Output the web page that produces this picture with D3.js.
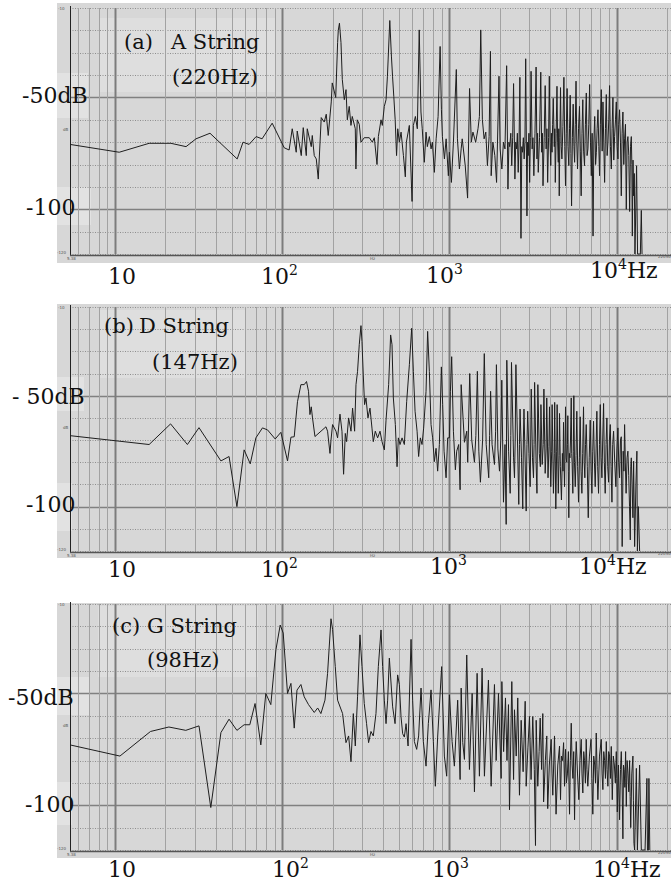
<!DOCTYPE html>
<html>
<head>
<meta charset="utf-8">
<script src="https://cdn.jsdelivr.net/npm/d3@7"></script>
<style>
  body { margin: 0; background: #fff; }
  svg { display: block; }
</style>
</head>
<body>
<div id="chart"></div>
<script>
// spectra: [frequency Hz, level dB]
const specA = [
  [5.38,-71],[10.6,-74.5],[16,-70.5],[21.6,-70.5],[26.6,-72],[30.5,-68.5],[37,-66],[53.8,-77.5],[58.3,-70],[63.4,-71],
  [69.8,-67.5],[75.8,-68.5],[87.1,-61.5],[102.8,-72.5],[110,-73.5],[114.8,-64],[121.3,-74.5],[123,-65],[130,-76],[133.6,-63.5],
  [139.3,-76],[141.2,-64],[149.2,-72],[151.3,-67],[155.5,-76],[159.9,-77.5],[164.3,-86.5],[171.2,-59],[178.4,-61],[183.4,-57.5],
  [188.5,-67],[196.5,-52],[199.2,-43.5],[209,-50],[214.5,-25.5],[216.5,-20],[220,-16.8],[224.7,-25.5],[228.8,-42],[235.2,-51],
  [240.8,-46.5],[245.2,-60],[251.7,-54],[257.8,-62.5],[262.5,-58.5],[273.6,-64],[276,-82],[281,-60],[289,-62],[296,-70],
  [309.5,-68],[331.8,-68],[345.9,-70],[355.6,-68],[369,-80],[376,-67.5],[390,-60],[397,-62.5],[408,-54],[418,-51],
  [426,-40.5],[440,-15.6],[450,-31.5],[457,-40.5],[465,-49.5],[474,-60],[483,-76],[491,-64],[502,-70],[514,-65.5],
  [531,-76],[545,-85.5],[553,-70],[576,-62.5],[598,-96.5],[609,-62.5],[626,-58.5],[643,-64],[660,-19.8],[676,-56.5],
  [688,-64],[708,-79],[725,-65.5],[738,-72],[759,-67.5],[777,-73],[791,-70],[813,-83.5],[833,-68.5],[856,-58.5],
  [880,-27.2],[896,-55.5],[908,-67.5],[934,-77.5],[956,-68.5],[986,-85],[1000,-74.5],[1028,-88],[1057,-70],[1100,-37.5],
  [1117,-68.5],[1148,-82],[1176,-73],[1193,-68.5],[1244,-80.5],[1285,-95],[1320,-46],[1352,-70],[1383,-65.5],[1436,-70],
  [1483,-64],[1512,-58.5],[1540,-19.8],[1575,-60],[1613,-68.5],[1651,-65.5],[1688,-80.5],[1728,-67.5],[1760,-29.4],[1778,-85],
  [1820,-70],[1870,-76],[1915,-88],[1980,-40.5],[2011,-73],[2060,-82],[2105,-70],[2150,-73],[2200,-35.8],[2240,-91],
  [2270,-70],[2295,-72],[2330,-66],[2360,-80.5],[2390,-68],[2420,-43.8],[2465,-86.5],[2495,-70],[2525,-73],[2550,-66],
  [2580,-83.5],[2610,-70],[2640,-41],[2680,-113],[2710,-72],[2735,-74.5],[2770,-68],[2800,-77.5],[2830,-70],[2860,-32.7],
  [2910,-103],[2935,-70],[2960,-76],[2990,-66],[3020,-88],[3050,-68],[3080,-38.3],[3125,-73],[3160,-68],[3200,-85],
  [3250,-66],[3300,-36.4],[3340,-77.5],[3370,-66],[3400,-83.5],[3460,-68],[3520,-38.7],[3565,-74.5],[3600,-66],[3630,-89.5],
  [3690,-68],[3740,-44.7],[3790,-73],[3830,-64],[3870,-88],[3920,-68],[3960,-40.5],[4000,-70],[4040,-80.5],[4075,-66],
  [4110,-74.5],[4145,-62],[4180,-50.4],[4240,-72],[4270,-64],[4300,-88],[4350,-66],[4400,-45],[4440,-70],[4480,-79],
  [4510,-64],[4540,-94],[4580,-68],[4620,-45.6],[4665,-72],[4710,-77.5],[4775,-63],[4840,-41],[4900,-72],[4950,-89.5],
  [5000,-66],[5060,-46],[5120,-72],[5180,-80.5],[5230,-64],[5280,-49],[5330,-75],[5380,-98.5],[5440,-68],[5500,-53],
  [5560,-72],[5610,-79],[5665,-62],[5720,-42.7],[5780,-70],[5840,-82],[5920,-64],[6000,-54],[6070,-74],[6140,-94],
  [6210,-66],[6280,-51],[6350,-74],[6430,-80.5],[6510,-62],[6590,-48],[6660,-76],[6740,-73],[6820,-62],[6900,-44.2],
  [6980,-70],[7060,-85],[7140,-66],[7230,-112],[7310,-70],[7400,-58.5],[7490,-80],[7570,-74.5],[7650,-64],[7740,-55.5],
  [7830,-72],[7910,-85],[8000,-62],[8100,-46.5],[8200,-74],[8290,-52],[8380,-70],[8480,-88],[8580,-64],[8680,-48.7],
  [8780,-76],[8880,-70],[8980,-60],[9080,-44.7],[9190,-72],[9300,-82],[9400,-64],[9510,-50],[9620,-78],[9730,-67.5],
  [9850,-60],[9960,-52],[10080,-72],[10190,-77.5],[10300,-62],[10420,-55.5],[10550,-70],[10670,-94],[10790,-66],[10910,-56.5],
  [11040,-80],[11170,-68.5],[11300,-62],[11430,-100],[11560,-70],[11690,-67.5],[11830,-76],[11970,-101],[12110,-72],[12250,-67.5],
  [12340,-80],[12420,-112],[12540,-78],[12650,-94],[12760,-84],[12880,-120],[13170,-80.5],[13350,-120],[13870,-120],[14060,-100.5],
  [14200,-120]
];

const specB = [
  [5.38,-68],[16,-72],[21.5,-62.7],[27.1,-72],[31.8,-64.4],[43,-79.4],[48.1,-77.4],[53.6,-100],[59.2,-74.4],[64.4,-80.7],
  [69.6,-69],[76.2,-64.5],[81.7,-65.4],[90.8,-69.5],[98.2,-66.5],[107.6,-79.4],[112.8,-68.7],[118,-68.5],[123.4,-52.7],[129.4,-45],
  [135.4,-45],[139.8,-43.6],[143.7,-48],[146.5,-58.5],[149.2,-55],[151.8,-60],[157,-68.4],[182.7,-64],[186.8,-66],[193.1,-76],
  [195.8,-70],[200.1,-63],[209.7,-66],[214.4,-69],[221.6,-58.3],[227.8,-66],[232.9,-85.4],[238.4,-67],[242.8,-70.7],[249.6,-60],
  [257.9,-66],[263.6,-55.6],[271.1,-66],[276.3,-45],[282.3,-39],[289,-27],[295.9,-18.4],[300,-25.6],[305.4,-40.6],[310.9,-54],
  [317,-51],[325.8,-60],[335,-55.6],[344.3,-64.6],[350.6,-70.7],[360.4,-66],[372.2,-69],[384.7,-66],[395.4,-70.7],[408.2,-74.4],
  [417.9,-61],[433.2,-45],[445.2,-22.6],[453.8,-27],[462.2,-51],[475.1,-63],[486.3,-82],[495.1,-69],[506.9,-72],[521,-69],
  [537.8,-72],[555.2,-52.7],[576.3,-36],[594.9,-19.6],[608.9,-39],[623.3,-57],[640.8,-66],[654.6,-77.4],[670.2,-69],[686,-72],
  [701.4,-64.6],[725,-48],[741.1,-21],[758.8,-39],[776.7,-63],[793.9,-69],[813,-79.7],[832.2,-73.7],[850.7,-84],[871,-72],
  [895.4,-37],[911.6,-54],[929.3,-75],[955.3,-87],[976.6,-69],[1000,-69],[1013.9,-48],[1032,-32.4],[1057,-66],[1086,-83.4],
  [1106,-75],[1137,-72],[1159,-92.4],[1176,-45],[1230,-71],[1270,-66],[1287,-80],[1323,-40],[1360,-70],[1412,-80],
  [1440,-68],[1470,-39],[1500,-75],[1533,-89],[1580,-70],[1617,-31],[1660,-72],[1719,-87],[1740,-68],[1764,-48],
  [1800,-72],[1860,-81],[1890,-66],[1911,-36],[1950,-74],[1993,-84],[2030,-70],[2058,-43],[2106,-98],[2150,-72],
  [2186,-108],[2205,-34],[2260,-75],[2310,-94],[2330,-68],[2352,-35],[2420,-78],[2451,-87],[2475,-70],[2499,-36],
  [2560,-74],[2600,-99],[2625,-72],[2646,-56],[2700,-78],[2747,-101],[2770,-70],[2793,-56],[2840,-80],[2879,-102],
  [2910,-72],[2940,-57],[2990,-76],[3042,-91],[3065,-70],[3087,-47],[3140,-78],[3184,-87],[3210,-72],[3234,-44],
  [3300,-80],[3340,-94],[3360,-70],[3381,-45],[3450,-76],[3500,-82],[3528,-54],[3590,-81],[3640,-72],[3675,-47],
  [3740,-85],[3790,-74],[3822,-51],[3890,-87],[3940,-73],[3969,-55],[4040,-91],[4090,-75],[4116,-54],[4190,-94],
  [4240,-76],[4263,-53],[4330,-101],[4380,-75],[4410,-54],[4480,-94],[4530,-77],[4557,-58],[4610,-82],[4680,-97],
  [4740,-76],[4780,-84],[4815,-62],[4850,-80],[4882,-91],[4920,-74],[4950,-55],[4990,-78],[5030,-80],[5080,-72],
  [5109,-59],[5145,-84],[5180,-105],[5220,-76],[5260,-78],[5300,-70],[5355,-51],[5390,-76],[5420,-80],[5474,-94],
  [5510,-75],[5550,-50],[5600,-80],[5660,-91],[5720,-77],[5783,-57],[5850,-82],[5920,-98],[5990,-78],[6060,-59.5],
  [6130,-84],[6200,-94],[6270,-76],[6342,-55],[6400,-80],[6460,-87],[6520,-72],[6583,-63],[6680,-82],[6770,-105],
  [6860,-78],[6956,-61],[7040,-84],[7120,-94],[7200,-75],[7281,-61.5],[7370,-80],[7450,-91],[7540,-74],[7622,-57],
  [7710,-82],[7800,-94],[7900,-72],[7988,-54],[8080,-78],[8170,-87],[8260,-70],[8360,-53.5],[8450,-80],[8550,-94],
  [8650,-72],[8750,-60],[8850,-82],[8960,-89],[9060,-70],[9169,-63],[9270,-82],[9380,-98],[9480,-72],[9596,-66],
  [9750,-80],[9900,-91],[10050,-74],[10182,-64.5],[10300,-80],[10420,-87],[10550,-70],[10670,-68.5],[10800,-118],[10950,-75],
  [11060,-84],[11167,-63],[11280,-80],[11400,-94],[11550,-78],[11686,-75],[11820,-86],[11950,-100],[12080,-115],[12160,-82],
  [12247,-78],[12380,-90],[12521,-105],[12643,-79.5],[12822,-118],[13050,-90],[13229,-75],[13320,-120],[13500,-100],[13730,-120]
];

const specC = [
  [5.38,-73],[10.7,-78],[16.3,-67],[21,-65],[26.5,-66.5],[31.8,-64.5],[37.4,-101],[43,-67.5],[48.1,-61.5],[53.6,-66.5],
  [59.2,-64],[64,-64],[68.8,-54.5],[74.5,-73],[79.8,-50],[85.5,-55],[91.7,-30.5],[97.3,-19.4],[101.4,-23],[107.6,-50],
  [112.8,-45.5],[118,-65.5],[122.6,-48.5],[129.4,-46],[135.4,-51.5],[143.7,-55],[155.5,-58.5],[163,-56.5],[170.4,-59],[180.2,-53],
  [186.8,-41],[195.8,-16.6],[200.1,-21.3],[207.7,-38],[214.4,-53],[229.7,-59],[240.7,-72],[249.6,-69],[257.9,-80.5],[266.3,-59],
  [273.7,-73.5],[282.3,-51.5],[291.8,-23.8],[300,-38],[309.6,-54.5],[319.6,-63.5],[328.6,-72],[339.6,-67],[350.6,-69],[363.8,-59],
  [375.8,-38],[390,-21.6],[398.7,-38],[408.2,-53],[417.9,-63.5],[427.2,-53],[437.4,-34.2],[457.7,-56],[473.1,-63.5],[490.4,-41.7],
  [502,-46],[513.8,-60.5],[525.4,-68],[537.8,-69.5],[550.6,-63.5],[566,-73.5],[589.8,-25.8],[602.9,-53],[617.3,-71.5],[637.3,-75],
  [654.6,-69],[676.7,-47.6],[698.5,-71.5],[725,-82.5],[748.3,-63.5],[776.7,-48.4],[801.8,-71.5],[824.2,-91.5],[850.7,-69.5],[899,-38],
  [933.2,-78],[963.3,-87],[1000,-50.6],[1038,-71.5],[1071,-82.5],[1121,-53],[1159,-88.5],[1176,-47.6],[1202,-72],[1230,-79.5],
  [1270,-32.8],[1318,-84],[1368,-50],[1412,-94],[1465,-41],[1512,-87],[1569,-38.7],[1620,-87],[1712,-44],[1777,-91.5],
  [1860,-46],[1904,-80],[1966,-50],[2040,-88],[2060,-44.7],[2110,-76],[2165,-52],[2210,-80],[2256,-55],[2288,-102],
  [2362,-44.7],[2420,-88.5],[2451,-57.3],[2510,-78],[2564,-52],[2625,-95.5],[2687,-62],[2760,-85],[2840,-53.5],[2879,-91.5],
  [2950,-74],[3013,-60.3],[3080,-88.5],[3153,-60.3],[3220,-84],[3273,-118],[3304,-62],[3378,-91.5],[3440,-76],[3492,-61],
  [3560,-84],[3619,-59],[3660,-98.5],[3750,-80],[3824,-69],[3873,-101.5],[3960,-82],[4063,-70.5],[4110,-86],[4154,-95.5],
  [4253,-69],[4345,-104],[4450,-82],[4557,-73.5],[4620,-97.5],[4680,-78],[4750,-80],[4820,-72],[4882,-91.5],[4950,-75],
  [5010,-90],[5080,-86],[5150,-76],[5231,-104],[5290,-80],[5355,-63.3],[5420,-82],[5480,-88],[5540,-76],[5605,-106.5],
  [5670,-82],[5737,-71.5],[5840,-86],[5944,-97.5],[6040,-80],[6144,-70.5],[6210,-86],[6282,-94.5],[6360,-76],[6430,-80],
  [6510,-90],[6583,-70.5],[6650,-84],[6729,-91.5],[6880,-78],[7032,-70.5],[7120,-88],[7208,-104],[7300,-78],[7400,-82],
  [7480,-90],[7556,-67.7],[7640,-84],[7728,-97.5],[7900,-78],[8098,-70.5],[8190,-86],[8280,-93],[8380,-76],[8480,-80],
  [8580,-88],[8678,-71.5],[8770,-84],[8870,-91.5],[8970,-76],[9080,-78],[9190,-88],[9295,-73.7],[9360,-86],[9425,-97.5],
  [9560,-78],[9700,-82],[9830,-90],[9960,-76],[10030,-88],[10100,-103],[10260,-82],[10423,-106.5],[10550,-84],[10670,-76],
  [10790,-90],[10909,-115],[11000,-82],[11100,-84],[11210,-92],[11322,-76],[11380,-88],[11430,-100.5],[11560,-80],[11700,-86],
  [11830,-94],[11966,-80],[12050,-96],[12150,-110],[12330,-86],[12521,-78],[12610,-98],[12700,-117],[12822,-120],[13130,-83.5],
  [13320,-120],[13730,-82],[14060,-120],[14800,-120],[15186,-88],[15300,-120],[15500,-120],[15610,-88],[15800,-120]
];

const freqDomain = [5.38, 22050];
const dbDomain = [-120, -10];
const boldDb = [-50, -100];
const decades = [10, 100, 1000, 10000];
const decadeLabels = [["10"], ["10", "2"], ["10", "3"], ["10", "4", "Hz"]];

const panels = [
  { data: specA, top: 8, bottom: 254, grayTop: 3, grayBottom: 263,
    tag: "(a)", tagX: 124, name: "A String", nameX: 171, nameY: 49, note: "(220Hz)", noteX: 172, noteY: 84,
    titlePatch: [100, 18, 175, 74],
    dbText: ["-50dB", "-100"], dbX: [22, 26], dbY: [103, 215],
    dbPatch: [[57, 73, 31, 45], [57, 187, 34, 38]],
    xLabX: [108, 261, 426, 590], xLabY: [284, 284, 283, 278] },
  { data: specB, top: 307, bottom: 551, grayTop: 304, grayBottom: 558,
    tag: "(b)", tagX: 104, name: "D String", nameX: 139, nameY: 333, note: "(147Hz)", noteX: 152, noteY: 369,
    titlePatch: [100, 310, 145, 68],
    dbText: ["- 50dB", "-100"], dbX: [12, 26], dbY: [404, 512],
    dbPatch: [[57, 377, 27, 34], [57, 483, 15, 48]],
    xLabX: [108, 261, 430, 579], xLabY: [577, 577, 574, 574] },
  { data: specC, top: 604, bottom: 850, grayTop: 603, grayBottom: 858,
    tag: "(c)", tagX: 112, name: "G String", nameX: 147, nameY: 633, note: "(98Hz)", noteX: 147, noteY: 667,
    titlePatch: [98, 606, 160, 71],
    dbText: ["-50dB", "-100"], dbX: [8, 25], dbY: [705, 812],
    dbPatch: [[57, 677, 33, 38], [57, 782, 15, 43]],
    xLabX: [108, 272, 432, 593], xLabY: [877, 877, 877, 877] }
];

const W = 671, H = 883;
const serif = "'DejaVu Serif', 'Liberation Serif', serif";

const svg = d3.select("#chart").append("svg")
  .attr("width", W)
  .attr("height", H);

const x = d3.scaleLog().domain(freqDomain).range([70, 674]);
const gridTicks = x.ticks();

panels.forEach((p, i) => {
  const y = d3.scaleLinear().domain(dbDomain).range([p.bottom, p.top]);
  const g = svg.append("g");

  // panel background
  g.append("rect")
    .attr("x", 57).attr("y", p.grayTop)
    .attr("width", W - 57).attr("height", p.grayBottom - p.grayTop)
    .attr("fill", "#d7d7d7");

  // lighter pasted label boxes
  g.append("rect")
    .attr("x", p.titlePatch[0]).attr("y", p.titlePatch[1])
    .attr("width", p.titlePatch[2]).attr("height", p.titlePatch[3])
    .attr("fill", "#dedede");
  p.dbPatch.forEach(r => {
    g.append("rect").attr("x", r[0]).attr("y", r[1]).attr("width", r[2]).attr("height", r[3])
      .attr("fill", "#e2e2e2");
  });

  // horizontal grid
  g.selectAll(".hgrid")
    .data(y.ticks(11))
    .enter().append("line")
    .attr("x1", 70).attr("x2", W)
    .attr("y1", d => Math.round(y(d)) + 0.5)
    .attr("y2", d => Math.round(y(d)) + 0.5)
    .attr("stroke", d => boldDb.includes(d) ? "#808080" : "#8e8e8e")
    .attr("stroke-width", d => boldDb.includes(d) ? 1.5 : 1)
    .attr("stroke-dasharray", d => boldDb.includes(d) ? null : "1,1.5");

  // vertical grid
  g.selectAll(".vgrid")
    .data(gridTicks)
    .enter().append("line")
    .attr("x1", d => Math.round(x(d)) + 0.5)
    .attr("x2", d => Math.round(x(d)) + 0.5)
    .attr("y1", p.top).attr("y2", p.bottom)
    .attr("stroke", d => decades.includes(d) ? "#7c7c7c" : "#a2a2a2")
    .attr("stroke-width", d => decades.includes(d) ? 2 : 1);

  // axes frame
  g.append("line").attr("x1", 70.5).attr("x2", 70.5).attr("y1", p.top - 2).attr("y2", p.bottom + 1)
    .attr("stroke", "#222").attr("stroke-width", 1);
  g.append("line").attr("x1", 70).attr("x2", W).attr("y1", p.bottom + 1.5).attr("y2", p.bottom + 1.5)
    .attr("stroke", "#555").attr("stroke-width", 1.5);

  // spectrum
  const clipId = "clip" + i;
  svg.append("clipPath").attr("id", clipId)
    .append("rect").attr("x", 70).attr("y", p.top - 2).attr("width", W - 70).attr("height", p.bottom - p.top + 3);

  const line = d3.line()
    .x(d => x(d[0]))
    .y(d => y(Math.max(d[1], dbDomain[0])));
  g.append("path")
    .datum(p.data)
    .attr("clip-path", `url(#${clipId})`)
    .attr("fill", "none")
    .attr("stroke", "#1e1e1e")
    .attr("stroke-width", 1)
    .attr("stroke-linejoin", "round")
    .attr("d", line);

  // tiny instrument labels
  const tiny = [["-10", 58, p.top + 2], ["dB", 63, y(-65)], ["-120", 57, p.bottom], ["5.38", 67, p.bottom + 6],
                ["Hz", 370, p.bottom + 6], ["22050", 658, p.bottom + 4]];
  tiny.forEach(t => {
    g.append("text").attr("x", t[1]).attr("y", t[2]).text(t[0])
      .attr("font-family", "DejaVu Sans, sans-serif").attr("font-size", 4).attr("fill", "#555");
  });

  // titles
  const txt = (s, tx, ty) => g.append("text").attr("x", tx).attr("y", ty)
    .attr("font-family", serif).attr("font-size", 21).attr("fill", "#111").text(s);
  txt(p.tag, p.tagX, p.nameY);
  txt(p.name, p.nameX, p.nameY);
  txt(p.note, p.noteX, p.noteY);

  // y labels
  p.dbText.forEach((s, k) => txt(s, p.dbX[k], p.dbY[k]).attr("font-size", 22));

  // x labels
  decadeLabels.forEach((lab, k) => {
    const t = g.append("text")
      .attr("x", p.xLabX[k]).attr("y", p.xLabY[k])
      .attr("font-family", serif).attr("font-size", 22).attr("fill", "#111");
    t.append("tspan").text(lab[0]);
    if (lab[1]) t.append("tspan").attr("font-size", 14).attr("dy", -9).text(lab[1]);
    if (lab[2]) t.append("tspan").attr("dy", 9).text(lab[2]);
  });
});
</script>
</body>
</html>
